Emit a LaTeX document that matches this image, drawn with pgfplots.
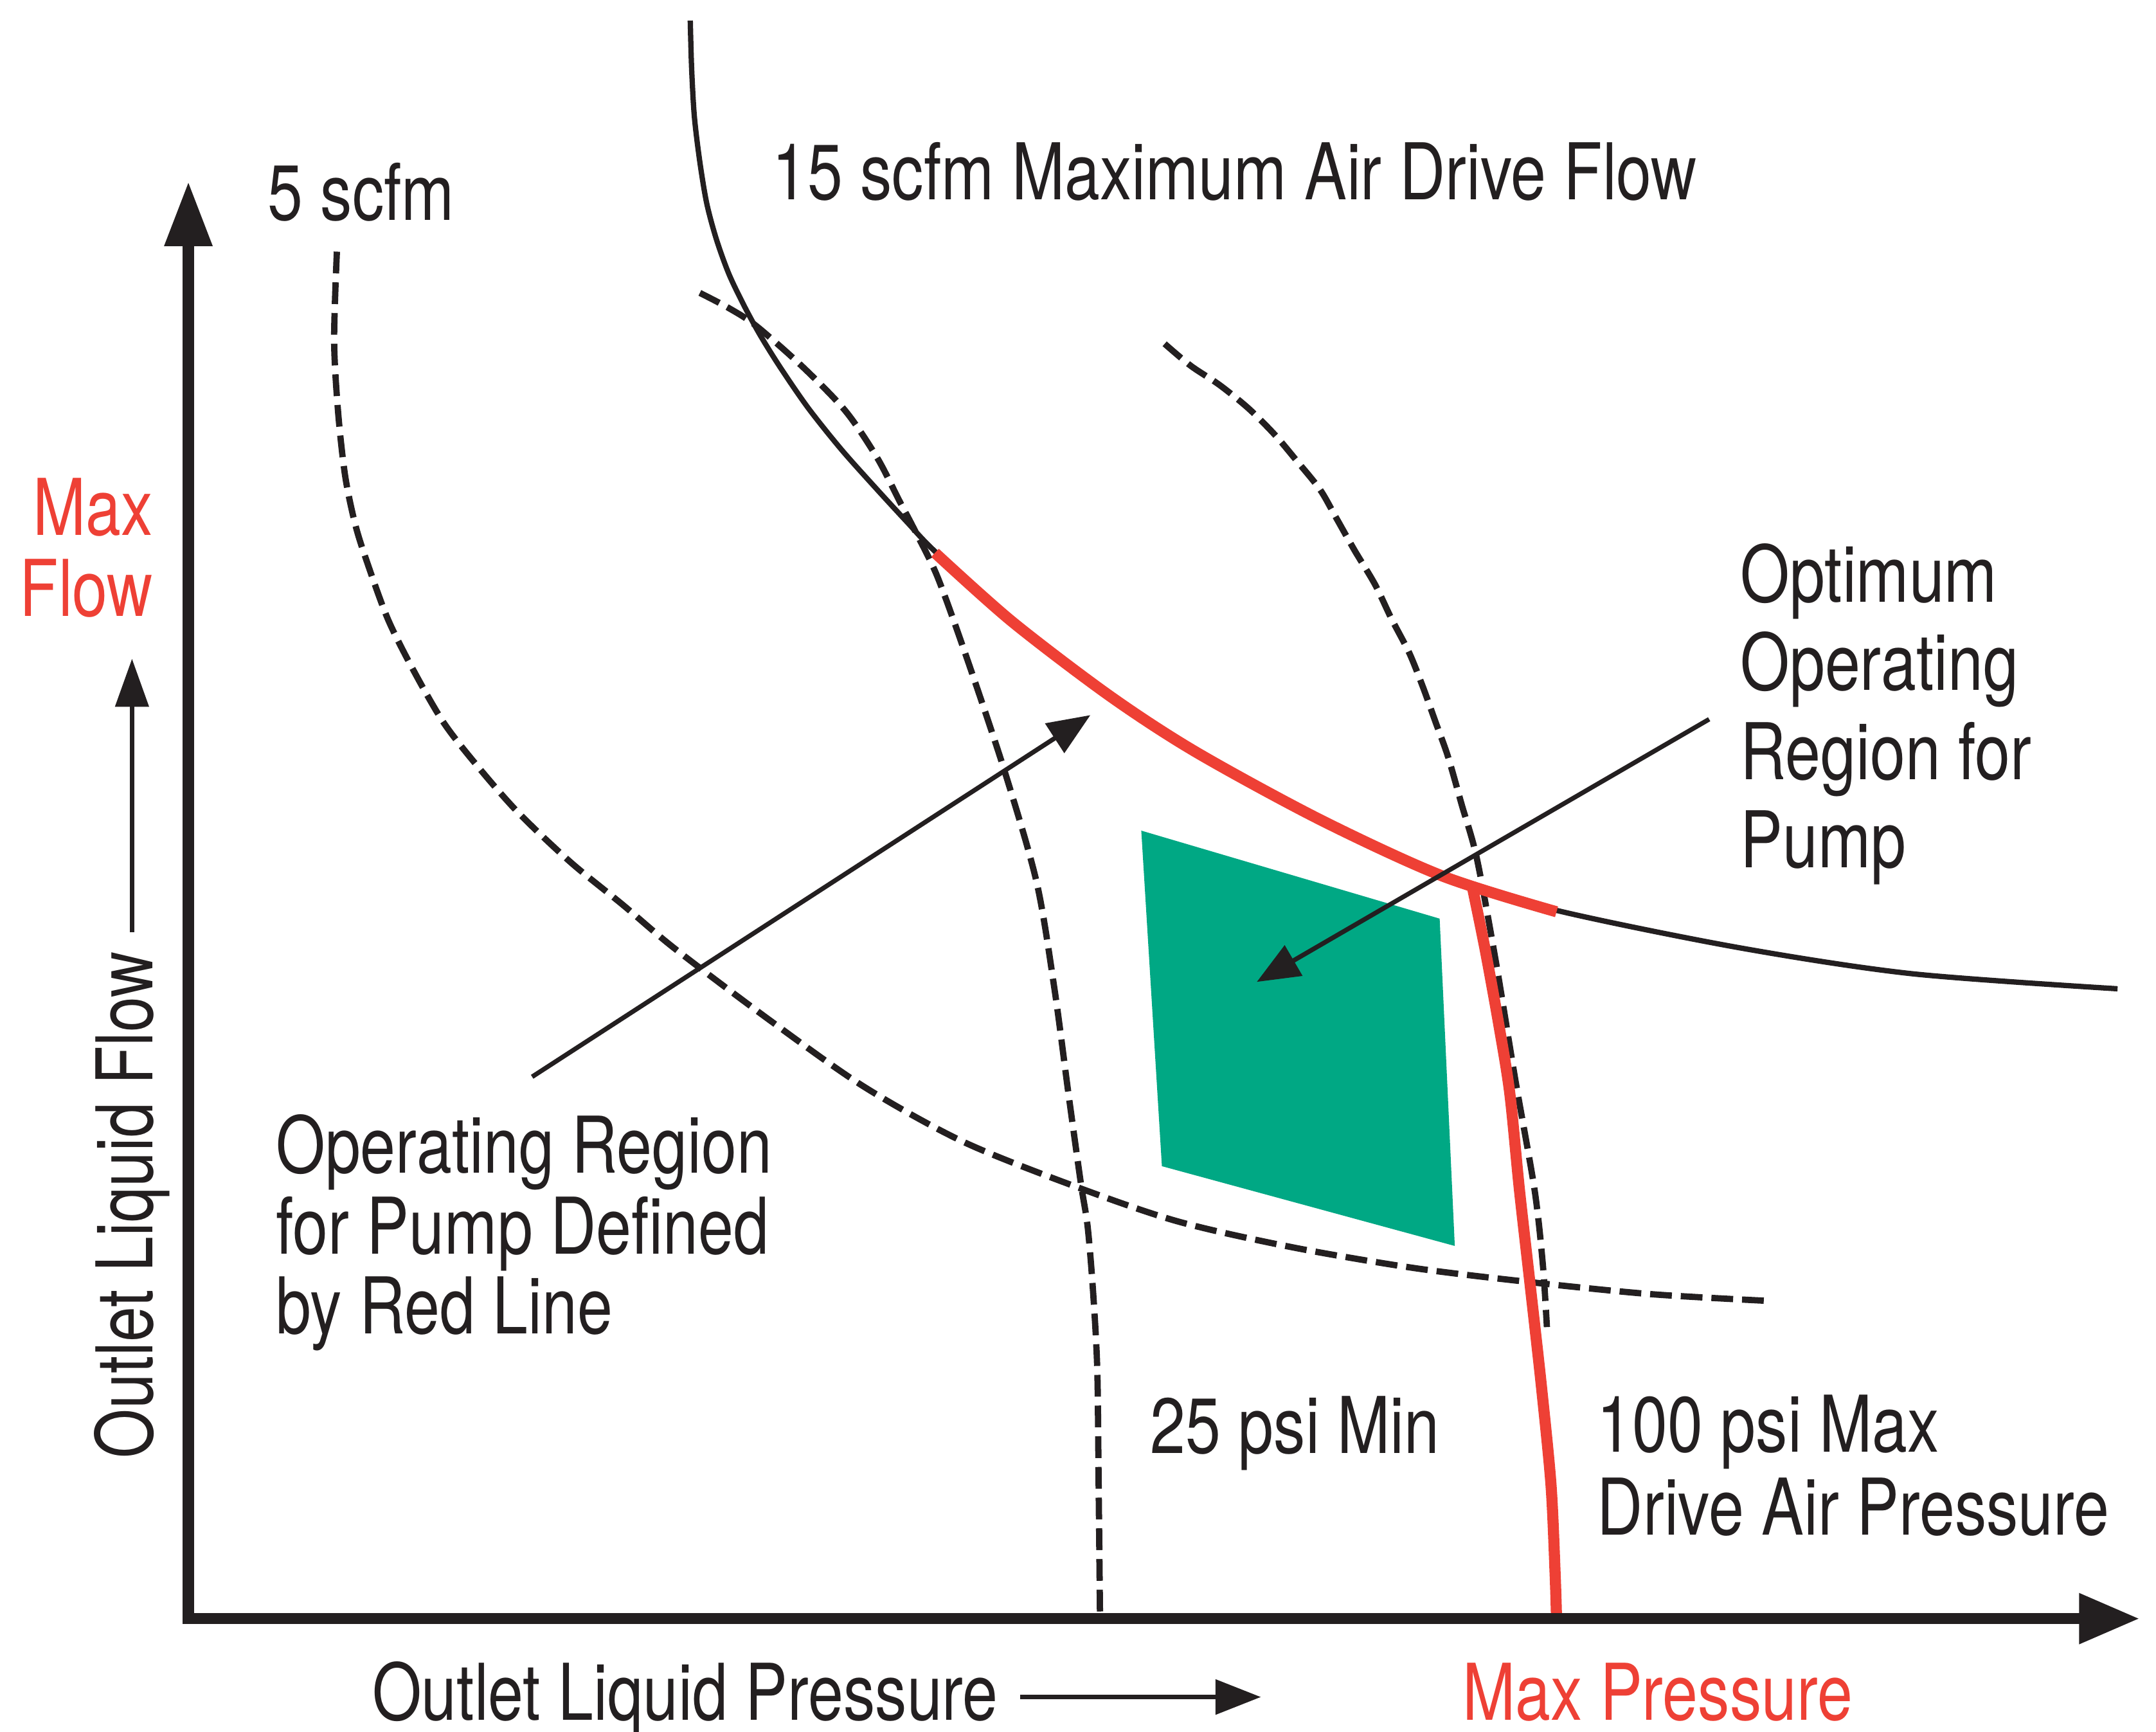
\documentclass[border=0pt]{standalone}
\usepackage{fontspec}
\setmainfont{TeX Gyre Heros}[FakeStretch=0.81]
\usepackage{pgfplots}
\pgfplotsset{compat=1.18}
\usetikzlibrary{arrows.meta}
\definecolor{ink}{RGB}{35,31,32}
\definecolor{pred}{RGB}{238,64,53}
\definecolor{pgreen}{RGB}{0,168,132}
\begin{document}
\begin{tikzpicture}[font=\fontsize{16.2pt}{19pt}\selectfont]
\begin{axis}[name=ax, scale only axis, width=156.8mm, height=125.9mm,
  xmin=0, xmax=1568, ymin=0, ymax=1259, y dir=reverse, hide axis, clip=false]
% dashed curves
\addplot[ink, line width=1.3pt, dash pattern=on 4.5pt off 1.85pt, smooth] coordinates {
 (245,183) (243,248) (246,301) (251,346) (258,380) (266,406) (282,450) (301,488) (323,526)
 (348,558) (377,591) (415,627) (453,658) (491,690) (560,742) (628,790) (700,830) (780,862)
 (856,888) (940,907) (1028,922) (1110,932) (1200,941) (1287,946)};
\addplot[ink, line width=1.3pt, dash pattern=on 4.5pt off 1.85pt, smooth] coordinates {
 (509,213) (530,224) (550,237) (584,267) (615,299) (638,333) (654,364) (666,387) (682,420)
 (704,481) (731,562) (754,642) (767,720) (777,795) (786,860) (791,892) (795,940) (798,996)
 (799,1080) (800,1176)};
\addplot[ink, line width=1.3pt, dash pattern=on 4.5pt off 1.85pt, smooth] coordinates {
 (847,250) (866,266) (887,280) (908,297) (927,316) (943,335) (960,356) (972,377) (985,400)
 (1000,425) (1012,450) (1025,475) (1035,500) (1044,525) (1053,550) (1063,585) (1074,624)
 (1088,700) (1102,785) (1116,865) (1122,919) (1125,965)};
% 15 scfm solid curve
\addplot[ink, line width=1.1pt, smooth] coordinates {
 (502,15) (503,50) (505,85) (509,118) (514,148) (521,174) (530,199) (541,222) (553,244)
 (568,268) (588,297) (612,327) (637,355) (660,380) (680,401) (736,452) (807,506) (870,547)
 (960,596) (1049,637) (1132,662) (1264,689) (1390,708) (1540,719)};
% red boundary
\addplot[pred, line width=2.3pt, smooth] coordinates {
 (680,402) (736,452) (807,506) (870,547) (960,596) (1049,637) (1132,663)};
\addplot[pred, line width=2.3pt, smooth] coordinates {
 (1071,646) (1080,690) (1090,745) (1098,795) (1105,865) (1113,936) (1121,1008) (1128,1080)
 (1131,1145) (1132,1177)};
% optimum region
\addplot[draw=none, fill=pgreen] coordinates {(830,604) (1047,668) (1058,906) (845,848)};
% axes
\addplot[ink, line width=2.3pt, -{Triangle[length=4.7mm,width=3.3mm]}] coordinates {(137,1181) (137,132)};
\addplot[ink, line width=2.3pt, -{Triangle[length=4.4mm,width=3.5mm]}] coordinates {(133,1177) (1556,1177)};
% small direction arrows
\addplot[ink, line width=0.95pt, -{Triangle[length=3.5mm,width=2.4mm]}] coordinates {(96,678) (96,479)};
\addplot[ink, line width=0.95pt, -{Triangle[length=3.3mm,width=2.5mm]}] coordinates {(742,1234) (917,1234)};
% callout arrows
\addplot[ink, line width=0.95pt, -{Triangle[length=3.1mm,width=2.5mm]}] coordinates {(387,783) (793,520)};
\addplot[ink, line width=0.95pt, -{Triangle[length=3.1mm,width=2.5mm]}] coordinates {(1243,523) (914,714)};
% texts
\begin{scope}[every node/.style={inner sep=0pt, text=ink}]
\node[anchor=base west] at (axis cs:194,160) {5 scfm};
\node[anchor=base west] at (axis cs:561,145) {15 scfm Maximum Air Drive Flow};
\node[anchor=base east, text=pred] at (axis cs:112,389) {Max};
\node[anchor=base east, text=pred] at (axis cs:112,448) {Flow};
\node[anchor=base west] at (axis cs:1265,438) {Optimum};
\node[anchor=base west] at (axis cs:1265,502) {Operating};
\node[anchor=base west] at (axis cs:1265,567) {Region for};
\node[anchor=base west] at (axis cs:1265,631) {Pump};
\node[anchor=base west] at (axis cs:200,853) {Operating Region};
\node[anchor=base west] at (axis cs:200,912) {for Pump Defined};
\node[anchor=base west] at (axis cs:200,970) {by Red Line};
\node[anchor=base west] at (axis cs:836,1057) {25 psi Min};
\node[anchor=base west] at (axis cs:1161,1056) {100 psi Max};
\node[anchor=base west] at (axis cs:1161,1116) {Drive Air Pressure};
\node[anchor=base west] at (axis cs:270,1251) {Outlet Liquid Pressure};
\node[anchor=base west, text=pred] at (axis cs:1063,1251) {Max Pressure};
\node[anchor=base west, rotate=90] at (axis cs:111,1061) {Outlet Liquid Flow};
\end{scope}
\end{axis}
\pgfresetboundingbox
\useasboundingbox (ax.south west) rectangle (ax.north east);
\end{tikzpicture}
\end{document}
